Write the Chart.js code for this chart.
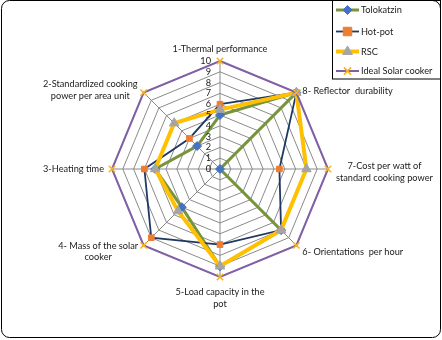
<!DOCTYPE html>
<html>
<head>
<meta charset="utf-8">
<script src="https://cdn.jsdelivr.net/npm/chart.js@4.4.1/dist/chart.umd.min.js"></script>
<style>
  html, body { margin: 0; padding: 0; background: #ffffff; }
  #wrap { width: 442px; height: 340px; position: relative; }
  canvas { display: block; }
</style>
</head>
<body>
<div id="wrap"><canvas id="c" width="442" height="340"></canvas></div>
<script>
// ---- data ----
const categories = [
  ['1-Thermal performance'],
  ['2-Standardized cooking', 'power per area unit'],
  ['3-Heating time'],
  ['4- Mass of the solar', 'cooker'],
  ['5-Load capacity in the', 'pot'],
  ['6- Orientations  per hour'],
  ['7-Cost per watt of', 'standard cooking power'],
  ['8- Reflector  durability']
];
const seriesNames = ['Tolokatzin', 'Hot-pot', 'RSC', 'Ideal Solar cooker'];
const tolokatzin = [5, 3, 6, 5, 9, 8, 0, 10];
const hotPot = [6, 4, 7, 9, 7, 8, 5.5, 10];
const rsc = [5.5, 6, 6, 5.5, 9, 8, 8, 10];
const idealSolarCooker = [10, 10, 10, 10, 10, 10, 10, 10];
const tickValues = [0, 1, 2, 3, 4, 5, 6, 7, 8, 9, 10];
const tickLabels = ['0', '1', '2', '3', '4', '5', '6', '7', '8', '9', '10'];

// the reference runs counter-clockwise; Chart.js runs clockwise, so show categories in this order
const displayOrder = [0, 7, 6, 5, 4, 3, 2, 1];

const FONT = 'Lato, "Open Sans", sans-serif';
const FSIZE = '9.2px ';

const styles = [
  { line: '#77933C', width: 3, point: 'rectRot', radius: 4.5, fill: '#4472C4', stroke: '#4472C4', order: 4 },
  { line: '#1F3864', width: 1.8, point: 'rect', radius: 4, fill: '#ED7D31', stroke: '#ED7D31', order: 3 },
  { line: '#FFC000', width: 4, point: 'triangle', radius: 5.5, fill: '#A5A5A5', stroke: '#A5A5A5', order: 2 },
  { line: '#7F5FA6', width: 2, point: 'crossRot', radius: 4.5, fill: '#FFC000', stroke: '#F7B21E', order: 1 }
];
const seriesData = [tolokatzin, hotPot, rsc, idealSolarCooker];

const datasets = seriesData.map((d, i) => ({
  label: seriesNames[i],
  data: displayOrder.map(k => d[k]),
  borderColor: styles[i].line,
  borderWidth: styles[i].width,
  backgroundColor: 'transparent',
  fill: false,
  tension: 0,
  pointStyle: styles[i].point,
  pointRadius: styles[i].radius,
  pointHoverRadius: styles[i].radius,
  pointBackgroundColor: styles[i].fill,
  pointBorderColor: styles[i].stroke,
  pointBorderWidth: i === 3 ? 1.5 : 1,
  order: styles[i].order
}));

// point label placement (relative to the value-10 vertex), indexed by category
const placements = [
  { align: 'center', dx: 0, dy: -12 },
  { align: 'blockRight', dx: -6, dy: -8.5 },
  { align: 'right', dx: -8, dy: 0 },
  { align: 'blockRight', dx: -5.5, dy: 0.5 },
  { align: 'center', dx: 0, dy: 15 },
  { align: 'left', dx: 6, dy: 6.5 },
  { align: 'blockLeft', dx: 8, dy: -3 },
  { align: 'left', dx: 6, dy: -2 }
];
const LINE_H = 11.6;

function drawMarker(ctx, st, x, y) {
  const r = st.radius;
  ctx.save();
  ctx.fillStyle = st.fill;
  ctx.strokeStyle = st.stroke;
  ctx.lineWidth = 1;
  ctx.beginPath();
  if (st.point === 'rectRot') {
    ctx.moveTo(x, y - r); ctx.lineTo(x + r, y); ctx.lineTo(x, y + r); ctx.lineTo(x - r, y); ctx.closePath();
    ctx.fill(); ctx.stroke();
  } else if (st.point === 'rect') {
    const s = r * Math.SQRT2 * 0.75;
    ctx.rect(x - s, y - s, 2 * s, 2 * s); ctx.fill(); ctx.stroke();
  } else if (st.point === 'triangle') {
    ctx.moveTo(x, y - r); ctx.lineTo(x + r * 0.9, y + r * 0.55); ctx.lineTo(x - r * 0.9, y + r * 0.55); ctx.closePath();
    ctx.fill(); ctx.stroke();
  } else {
    ctx.lineWidth = 1.5;
    ctx.moveTo(x - r * 0.8, y - r * 0.8); ctx.lineTo(x + r * 0.8, y + r * 0.8);
    ctx.moveTo(x + r * 0.8, y - r * 0.8); ctx.lineTo(x - r * 0.8, y + r * 0.8);
    ctx.stroke();
  }
  ctx.restore();
}

const decorPlugin = {
  id: 'decor',
  afterDraw(chart) {
    const ctx = chart.ctx;
    const scale = chart.scales.r;

    // tick labels (left of the vertical axis)
    ctx.save();
    ctx.font = FSIZE + FONT;
    ctx.fillStyle = '#1a1a1a';
    ctx.textAlign = 'right';
    ctx.textBaseline = 'middle';
    tickValues.forEach((v, i) => {
      const off = scale.getDistanceFromCenterForValue(v);
      ctx.fillText(tickLabels[i], scale.xCenter - 9, scale.yCenter - off);
    });
    ctx.restore();

    // point labels
    ctx.save();
    ctx.font = FSIZE + FONT;
    ctx.fillStyle = '#1a1a1a';
    ctx.textBaseline = 'middle';
    displayOrder.forEach((cat, di) => {
      const lines = categories[cat];
      const p = scale.getPointPositionForValue(di, 10);
      const pl = placements[cat];
      const maxW = Math.max(...lines.map(t => ctx.measureText(t).width));
      let x = p.x + pl.dx;
      if (pl.align === 'center') ctx.textAlign = 'center';
      else if (pl.align === 'left') ctx.textAlign = 'left';
      else if (pl.align === 'right') ctx.textAlign = 'right';
      else if (pl.align === 'blockRight') { ctx.textAlign = 'center'; x = p.x + pl.dx - maxW / 2; }
      else if (pl.align === 'blockLeft') { ctx.textAlign = 'center'; x = p.x + pl.dx + maxW / 2; }
      lines.forEach((t, k) => ctx.fillText(t, x, p.y + pl.dy + k * LINE_H));
    });
    ctx.restore();

    // legend box
    ctx.save();
    ctx.fillStyle = '#ffffff';
    ctx.fillRect(332, 0, 109, 79);
    ctx.strokeStyle = '#000000';
    ctx.lineWidth = 1;
    ctx.strokeRect(332.5, 0.5, 108, 78.5);
    const ys = [10, 31.5, 51.5, 71];
    ctx.font = FSIZE + FONT;
    ctx.textAlign = 'left';
    ctx.textBaseline = 'middle';
    chart.data.datasets.forEach((ds, i) => {
      const st = styles[i];
      const y = ys[i];
      ctx.strokeStyle = st.line;
      ctx.lineWidth = st.width;
      ctx.beginPath(); ctx.moveTo(336, y); ctx.lineTo(359, y); ctx.stroke();
      drawMarker(ctx, st, 347.5, y);
      ctx.fillStyle = '#1a1a1a';
      ctx.fillText(ds.label, 361, y + 0.5);
    });
    ctx.restore();

    // outer rounded frame
    ctx.save();
    ctx.strokeStyle = '#000000';
    ctx.lineWidth = 1;
    const x0 = 1.5, y0 = 0.5, x1 = 440.5, y1 = 337.5, rr = 8;
    ctx.beginPath();
    ctx.moveTo(x0 + rr, y0);
    ctx.lineTo(x1 - rr, y0); ctx.arcTo(x1, y0, x1, y0 + rr, rr);
    ctx.lineTo(x1, y1 - rr); ctx.arcTo(x1, y1, x1 - rr, y1, rr);
    ctx.lineTo(x0 + rr, y1); ctx.arcTo(x0, y1, x0, y1 - rr, rr);
    ctx.lineTo(x0, y0 + rr); ctx.arcTo(x0, y0, x0 + rr, y0, rr);
    ctx.closePath();
    ctx.stroke();
    ctx.restore();
  }
};

new Chart(document.getElementById('c'), {
  type: 'radar',
  data: { labels: displayOrder.map(k => categories[k]), datasets: datasets },
  options: {
    responsive: false,
    animation: false,
    layout: { padding: { left: 112, right: 114, top: 61, bottom: 63 } },
    plugins: { legend: { display: false }, tooltip: { enabled: false } },
    elements: { line: { tension: 0 } },
    scales: {
      r: {
        min: 0, max: 10,
        ticks: { stepSize: 1, display: false },
        grid: { color: '#8a8a8a', lineWidth: 1 },
        angleLines: { color: '#8a8a8a', lineWidth: 1 },
        pointLabels: { display: false }
      }
    }
  },
  plugins: [decorPlugin]
});
</script>
</body>
</html>
